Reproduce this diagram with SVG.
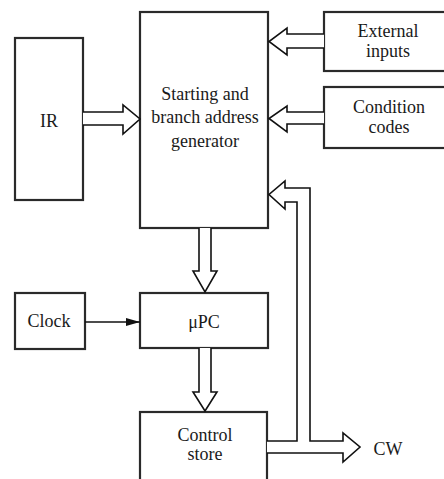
<svg xmlns="http://www.w3.org/2000/svg" width="444" height="479" viewBox="0 0 444 479">
<defs>
<style>
.box{fill:#fff;stroke:#2a2a2a;stroke-width:2.2}
.bus{fill:#fff;stroke:#111;stroke-width:1.6;stroke-linejoin:miter}
.wire{fill:none;stroke:#111;stroke-width:1.6}
.t{font-family:'Liberation Serif','Tinos','Times New Roman','DejaVu Serif',serif;font-size:18px;fill:#1a1a1a;text-anchor:middle}
</style>
<marker id="ah" viewBox="0 0 14 10" refX="14" refY="5" markerWidth="14" markerHeight="10" markerUnits="userSpaceOnUse" orient="auto">
<path d="M0,1 L14,5 L0,9 Z" fill="#111"/>
</marker>
</defs>
<g id="ir"><rect class="box" x="15" y="38" width="68" height="162"/><text class="t" x="49" y="127">IR</text></g>
<g id="generator"><rect class="box" x="140" y="12" width="128" height="216"/>
<text class="t" x="205" y="100">Starting and<tspan x="205" y="123">branch address</tspan><tspan x="205" y="147">generator</tspan></text></g>
<g id="external"><rect class="box" x="324" y="12" width="124" height="59"/><text class="t" x="388" y="37">External<tspan x="388" y="57">inputs</tspan></text></g>
<g id="condition"><rect class="box" x="324" y="87" width="124" height="61"/><text class="t" x="389" y="113">Condition<tspan x="389" y="133">codes</tspan></text></g>
<g id="clock"><rect class="box" x="15" y="293" width="70" height="56"/><text class="t" x="49" y="327">Clock</text></g>
<g id="upc"><rect class="box" x="140" y="293" width="128" height="55"/><text class="t" x="204" y="328">μPC</text></g>
<g id="store"><rect class="box" x="140" y="412" width="127" height="70"/><text class="t" x="205" y="441">Control<tspan x="205" y="460">store</tspan></text></g>
<g id="cw"><text class="t" x="388" y="455">CW</text></g>
<g id="connectors">
<path class="bus" d="M83,112 L123,112 L123,105 L140,119 L123,134 L123,125 L83,125"/>
<path class="bus" d="M324,34 L287,34 L287,28 L269,41.5 L287,55 L287,48 L324,48"/>
<path class="bus" d="M324,112 L287,112 L287,106 L269,118.5 L287,132 L287,124 L324,124"/>
<path class="bus" d="M199,228 L199,271 L193,271 L205,292 L217,271 L211,271 L211,228"/>
<path class="bus" d="M199,348 L199,392 L193,392 L205,411 L217,392 L211,392 L211,348"/>
<path class="bus" d="M267,441 L297,441 L297,202 L285,202 L285,209 L269,194.5 L285,181 L285,188 L310,188 L310,441 L343,441 L343,433 L360,447 L343,462 L343,453 L267,453"/>
<line class="wire" x1="85" y1="322" x2="140" y2="322" marker-end="url(#ah)"/>
</g>
</svg>
